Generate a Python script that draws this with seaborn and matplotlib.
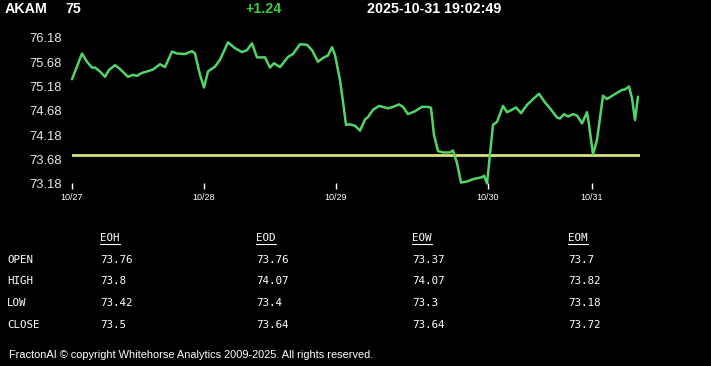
import matplotlib
matplotlib.use("Agg")
import matplotlib.pyplot as plt
import pandas as pd
import seaborn as sns
from matplotlib.lines import Line2D

# header
SYMBOL = "AKAM"
LAST = "75"
CHANGE = "+1.24"
STAMP = "2025-10-31 19:02:49"
PREV_CLOSE = 73.76

# intraday trace (bar index, price)
BARS = [0, 10, 15, 20, 23, 28, 33, 37, 43, 48, 56, 61, 65, 70, 75, 81, 88, 93,
        100, 105, 113, 120, 123, 128, 132, 136, 143, 148, 156, 163, 170, 175,
        180, 185, 193, 198, 202, 208, 216, 221, 228, 235, 240, 246, 251, 256,
        260, 263, 268, 271, 274, 278, 283, 288, 293, 296, 301, 307, 316, 321,
        327, 331, 336, 343, 350, 356, 359, 362, 366, 371, 378, 381, 385, 389,
        395, 401, 410, 412, 415, 421, 423, 425, 431, 435, 440, 444, 449, 455,
        461, 467, 473, 478, 485, 488, 492, 496, 501, 505, 510, 515, 517, 521,
        525, 531, 535, 541, 550, 553, 557, 560, 563, 566]
PRICES = [75.33, 75.86, 75.69, 75.57, 75.57, 75.49, 75.38, 75.52, 75.62, 75.54,
          75.38, 75.42, 75.40, 75.46, 75.49, 75.53, 75.64, 75.58, 75.90, 75.86,
          75.85, 75.91, 75.86, 75.42, 75.16, 75.49, 75.59, 75.73, 76.09, 75.97,
          75.89, 75.93, 76.07, 75.78, 75.78, 75.57, 75.66, 75.58, 75.79, 75.85,
          76.05, 76.04, 75.93, 75.69, 75.77, 75.82, 75.99, 75.83, 75.31, 74.87,
          74.39, 74.40, 74.37, 74.27, 74.50, 74.55, 74.70, 74.78, 74.73, 74.76,
          74.81, 74.76, 74.61, 74.67, 74.76, 74.76, 74.74, 74.18, 73.85, 73.82,
          73.82, 73.86, 73.60, 73.20, 73.22, 73.27, 73.31, 73.34, 73.18, 74.39,
          74.42, 74.45, 74.78, 74.65, 74.70, 74.75, 74.63, 74.80, 74.92, 75.03,
          74.85, 74.73, 74.54, 74.52, 74.61, 74.56, 74.61, 74.58, 74.42, 74.65,
          74.39, 73.78, 74.08, 74.99, 74.92, 75.00, 75.11, 75.12, 75.18, 74.94,
          74.49, 74.97]

DAY_LABELS = ["10/27", "10/28", "10/29", "10/30", "10/31"]
DAY_BARS = [0, 132, 264, 416, 520]
Y_TICKS = [73.18, 73.68, 74.18, 74.68, 75.18, 75.68, 76.18]

# summary table
COLUMNS = ["EOH", "EOD", "EOW", "EOM"]
ROWS = ["OPEN", "HIGH", "LOW", "CLOSE"]
EOH = ["73.76", "73.8", "73.42", "73.5"]
EOD = ["73.76", "74.07", "73.4", "73.64"]
EOW = ["73.37", "74.07", "73.3", "73.64"]
EOM = ["73.7", "73.82", "73.18", "73.72"]

FOOTER = "FractonAI \u00a9 copyright Whitehorse Analytics 2009-2025. All rights reserved."

sns.set_theme(style="dark", rc={
    "figure.facecolor": "black",
    "axes.facecolor": "black",
    "axes.grid": False,
})
plt.rcParams["font.family"] = ["Liberation Sans", "DejaVu Sans"]

W, H = 711, 366
fig = plt.figure(figsize=(W / 100, H / 100), dpi=100)
ax = fig.add_axes([72 / W, 1 - 183.5 / H, 568 / W, (183.5 - 38) / H])

df = pd.DataFrame({"bar": BARS, "price": PRICES})
ax.axhline(PREV_CLOSE, color="#d9e37c", lw=2, zorder=1)
sns.lineplot(data=df, x="bar", y="price", ax=ax, color="#52d468", lw=1.8,
             zorder=2, clip_on=False)

ax.set_xlim(0, 568)
ax.set_ylim(73.18, 76.18)
ax.set_xticks(DAY_BARS)
ax.set_xticklabels(DAY_LABELS)
ax.set_yticks(Y_TICKS)
ax.set_yticklabels([f"{v:.2f}" for v in Y_TICKS])
ax.set_xlabel("")
ax.set_ylabel("")
for s in ax.spines.values():
    s.set_visible(False)
ax.tick_params(axis="x", colors="white", length=4, width=1, direction="out",
               pad=3, labelsize=6.5, bottom=True)
ax.tick_params(axis="y", colors="#e6e6e6", length=0, pad=7, labelsize=9.4)

# header line
fig.text(5 / W, 1 - 9 / H, SYMBOL, color="white", fontsize=10.3,
         fontweight="bold", va="center")
fig.text(65 / W, 1 - 9 / H, LAST, color="white", fontsize=10.3,
         fontweight="bold", va="center")
fig.text(245 / W, 1 - 9 / H, CHANGE, color="#3ccb3c", fontsize=10.3,
         fontweight="bold", va="center")
fig.text(367 / W, 1 - 9 / H, STAMP, color="white", fontsize=10.3,
         fontweight="bold", va="center")

# table
mono = ["DejaVu Sans Mono"]
col_x = [100, 256, 412, 568]
row_y = [260, 281, 303, 325]
col_vals = [EOH, EOD, EOW, EOM]
headers = []
for cx, name, vals in zip(col_x, COLUMNS, col_vals):
    t = fig.text(cx / W, 1 - 238 / H, name, color="white", fontsize=7.8,
                 family=mono, va="center")
    headers.append(t)
    for ry, v in zip(row_y, vals):
        fig.text(cx / W, 1 - ry / H, v, color="white", fontsize=7.8,
                 family=mono, va="center")
for ry, name in zip(row_y, ROWS):
    fig.text(7 / W, 1 - ry / H, name, color="white", fontsize=7.8,
             family=mono, va="center")

fig.canvas.draw()
renderer = fig.canvas.get_renderer()
for t in headers:
    bb = t.get_window_extent(renderer)
    yy = (bb.y0 - 1) / H
    fig.add_artist(Line2D([bb.x0 / W, bb.x1 / W], [yy, yy], color="white",
                          lw=0.8, transform=fig.transFigure))

fig.text(9 / W, 1 - 355 / H, FOOTER, color="white", fontsize=7.9,
         va="center")

fig.savefig("out.png", dpi=100, facecolor="black")
